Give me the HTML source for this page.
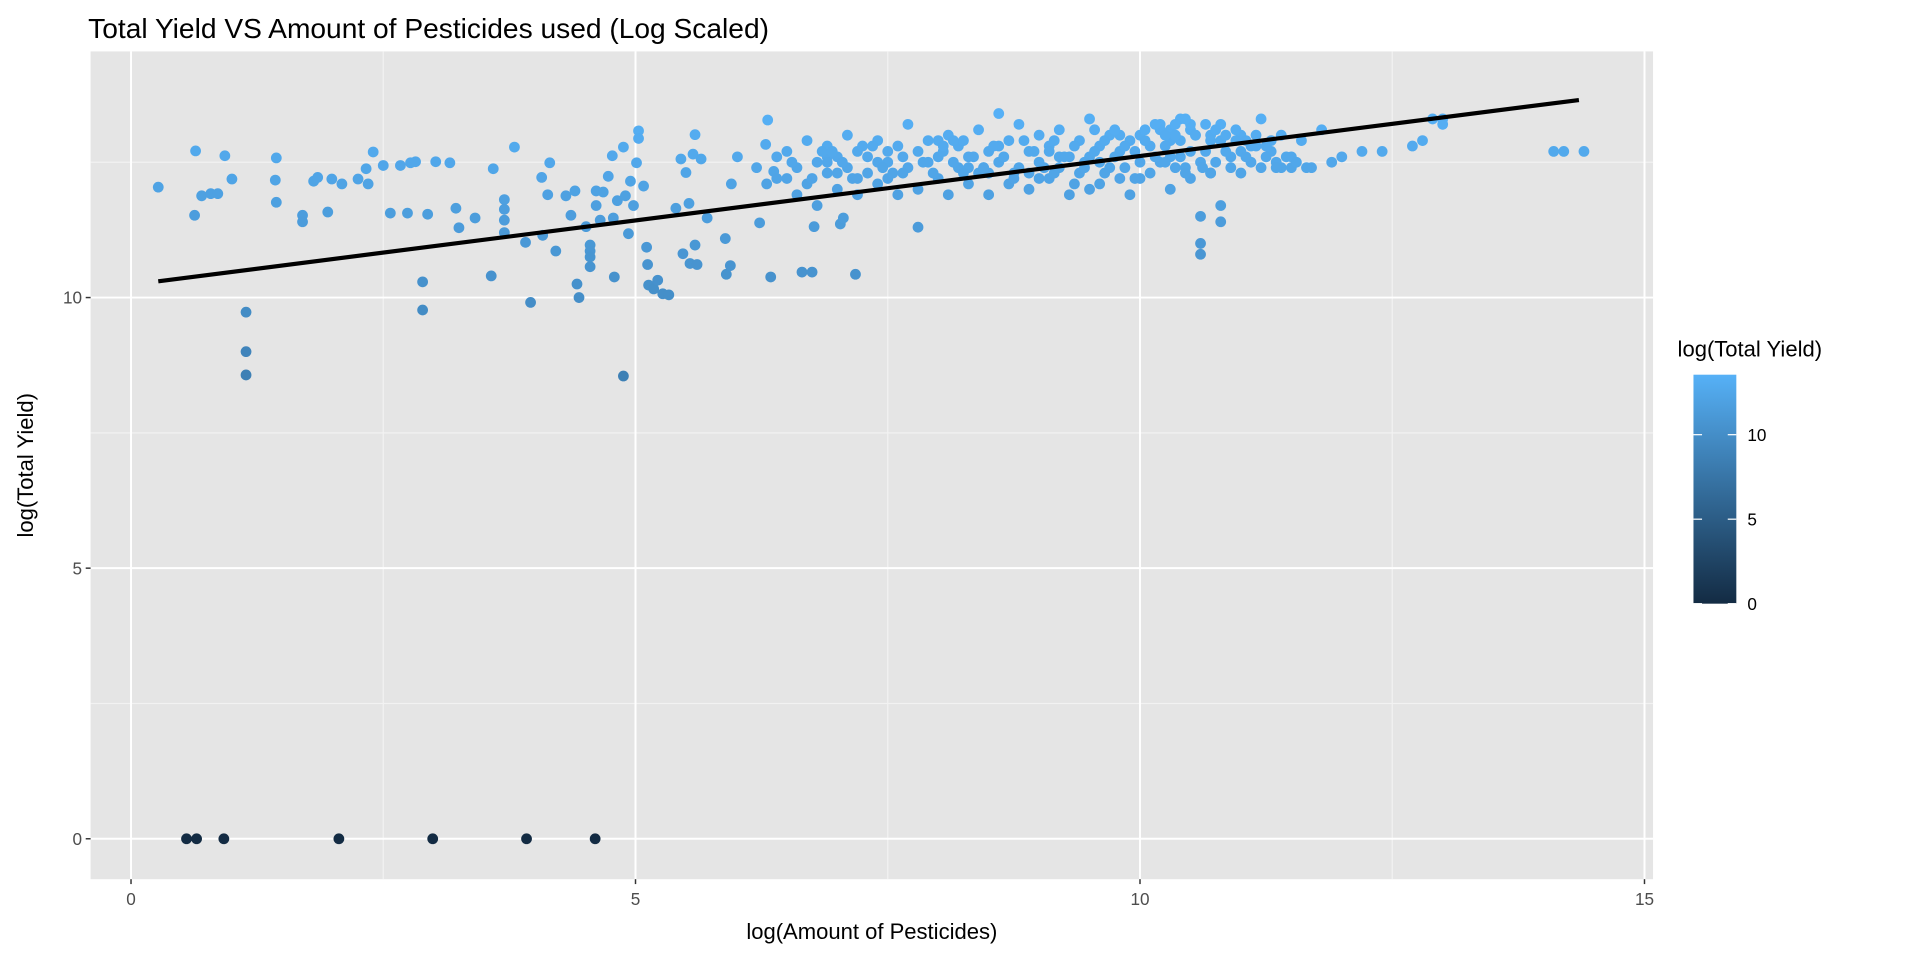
<!DOCTYPE html>
<html><head><meta charset="utf-8"><style>
html,body{margin:0;padding:0;background:#fff;width:1920px;height:960px;overflow:hidden}
svg{display:block;font-family:"Liberation Sans",Arial,sans-serif}
</style></head><body>
<svg id="chart" width="1920" height="960" viewBox="0 0 1568 784"></svg>
<script>
const xTicks=[0,5,10,15];
const yTicks=[0,5,10];
const legendTicks=[0,5,10];
const fitLine=[[0.27,10.3],[14.35,13.65]];
const xs=[0.55,0.65,0.92,2.06,2.99,3.92,4.6,
0.27,0.64,0.63,0.7,0.79,0.86,0.93,1.0,1.14,1.14,1.14,1.44,1.43,1.44,1.7,1.7,1.81,1.85,1.95,1.99,2.09,2.25,2.33,2.4,2.35,2.5,2.57,2.67,2.74,2.77,2.82,2.89,2.89,2.94,3.02,3.16,3.22,3.25,3.41,3.59,3.57,3.7,3.7,3.7,3.7,3.8,3.91,3.96,4.07,4.08,4.13,4.15,4.21,4.31,4.4,4.42,4.44,4.36,4.51,4.55,4.55,4.55,4.55,4.61,4.61,4.65,4.68,4.73,4.77,4.78,4.82,4.79,4.88,4.88,4.9,4.93,4.95,4.98,5.01,5.03,5.03,5.08,5.11,5.12,5.13,5.18,5.22,5.27,5.33,5.4,5.45,5.47,5.5,5.54,5.53,5.59,5.57,5.59,5.61,5.65,5.71,5.89,5.9,5.95,5.94,6.01,6.23,6.29,6.31,6.34,6.37,6.65,6.75,7.18,6.77,7.03,7.06,
6.2,6.3,6.4,6.5,6.5,6.6,6.6,6.7,6.7,6.8,6.8,6.9,6.9,7.0,7.0,7.1,7.1,7.2,7.2,7.3,7.3,7.4,7.4,7.5,7.5,7.6,7.6,7.7,7.7,7.8,7.8,7.8,7.9,7.9,8.0,8.0,8.1,8.1,8.2,8.2,8.3,8.3,8.4,8.4,8.5,8.5,8.6,8.6,8.7,8.7,8.8,8.8,8.9,8.9,9.0,9.0,9.1,9.1,9.2,9.2,9.3,9.3,9.4,9.4,9.5,9.5,9.6,9.6,9.7,9.7,9.8,9.8,9.9,9.9,10.0,10.0,10.1,10.1,10.2,10.2,10.3,10.3,10.4,10.4,10.5,10.5,10.6,10.6,10.6,10.6,10.7,10.7,10.8,10.8,10.8,10.9,11.0,11.0,11.1,11.1,11.2,11.2,11.3,11.4,11.4,11.5,11.6,11.7,11.8,11.9,12.0,12.2,12.4,12.7,12.8,12.9,13.0,13.0,14.1,14.2,14.4,
7.0,7.5,8.0,8.5,9.0,9.5,10.0,10.5,11.0,8.3,9.2,9.8,10.3,10.8,7.2,6.9,8.9,9.6,10.4,10.9,10.2,10.5,10.7,11.3,11.5,6.9,7.4,8.6,9.1,10.3,
6.4,6.55,6.85,7.05,7.15,7.35,7.45,7.55,7.65,7.85,7.95,8.05,8.15,8.25,8.35,8.45,8.55,8.65,8.75,8.85,8.95,9.05,9.15,9.25,9.35,9.45,9.55,9.65,9.75,9.85,9.95,10.05,10.15,10.25,10.35,10.45,10.55,10.65,10.75,10.85,10.95,11.05,11.15,11.25,11.35,11.45,
10.05,10.15,10.25,10.35,10.45,10.55,10.65,10.75,10.85,10.95,11.05,11.15,11.25,9.45,9.55,9.65,9.75,9.85,9.95,8.05,8.25,8.45,7.25,7.65,6.95,6.75,9.35,9.15,8.75,8.15,11.35,11.55,11.65,10.45,10.35,10.25,10.62,10.7];
const ys=[0,0,0,0,0,0,0,
12.04,12.71,11.52,11.88,11.92,11.92,12.62,12.19,9.73,9.0,8.57,12.58,12.17,11.76,11.52,11.4,12.15,12.22,11.58,12.19,12.1,12.19,12.38,12.69,12.1,12.44,11.56,12.44,11.56,12.49,12.51,10.29,9.77,11.54,12.51,12.49,11.65,11.29,11.47,12.38,10.4,11.81,11.63,11.43,11.2,12.78,11.02,9.91,12.22,11.15,11.9,12.49,10.86,11.88,11.97,10.25,10.0,11.52,11.31,10.97,10.86,10.75,10.57,11.97,11.7,11.43,11.95,12.24,12.62,11.47,11.79,10.38,12.78,8.55,11.88,11.18,12.15,11.7,12.49,13.08,12.94,12.06,10.93,10.61,10.23,10.16,10.32,10.07,10.05,11.65,12.56,10.81,12.31,10.63,11.74,13.01,12.65,10.97,10.61,12.56,11.47,11.09,10.43,12.1,10.59,12.6,11.38,12.83,13.28,10.38,12.33,10.47,10.47,10.43,11.31,11.36,11.47,
12.4,12.1,12.6,12.2,12.7,11.9,12.4,12.9,12.1,12.5,11.7,12.3,12.8,12.0,12.6,12.4,13.0,11.9,12.7,12.3,12.6,12.1,12.9,12.5,12.2,12.8,11.9,13.2,12.4,12.0,12.7,11.3,12.5,12.9,12.2,12.6,13.0,11.9,12.4,12.8,12.1,12.6,13.1,12.3,12.7,11.9,13.4,12.5,12.1,12.9,12.4,13.2,12.7,12.0,12.5,13.0,12.2,12.8,12.4,13.1,11.9,12.6,12.9,12.3,13.3,12.6,12.1,12.8,12.4,13.0,12.2,12.7,11.9,12.9,12.5,13.0,12.3,12.8,13.2,12.5,12.0,12.9,13.3,12.6,12.2,13.1,12.5,11.0,10.8,11.5,12.9,12.3,11.7,11.4,13.2,12.6,12.3,13.0,12.8,12.5,13.3,12.4,12.7,12.4,13.0,12.6,12.9,12.4,13.1,12.5,12.6,12.7,12.7,12.8,12.9,13.3,13.3,13.2,12.7,12.7,12.7,
12.3,12.7,12.9,12.3,12.2,12.0,12.2,12.7,12.7,12.4,12.6,13.0,12.6,12.9,12.2,12.6,12.3,12.5,12.9,12.4,13.1,13.2,13.0,12.9,12.4,12.5,12.5,12.8,12.7,13.1,
12.2,12.5,12.7,12.5,12.2,12.8,12.4,12.3,12.6,12.5,12.3,12.7,12.5,12.9,12.6,12.4,12.8,12.6,12.3,12.9,12.7,12.4,12.9,12.6,12.8,12.5,12.7,12.9,12.6,12.8,12.7,12.9,12.6,12.8,13.0,12.4,13.0,12.7,12.5,12.7,12.9,12.6,12.8,12.6,12.5,12.6,
13.1,13.2,13.0,13.2,13.3,13.0,13.2,13.1,13.0,13.1,12.9,13.0,12.8,12.4,13.1,12.3,13.1,12.4,12.2,12.8,12.3,12.4,12.8,12.3,12.7,12.2,12.1,12.3,12.2,12.9,12.4,12.5,12.4,12.3,12.4,12.5,12.4,12.3];
const svg=document.getElementById('chart');
const NS='http://www.w3.org/2000/svg';
const PL=74,PR=1350,PT=42,PB=718;
const X=v=>107+v*82.4, Y=v=>685-v*44.2;
function mk(t,a,p){const e=document.createElementNS(NS,t);for(const k in a)e.setAttribute(k,a[k]);(p||svg).appendChild(e);return e;}
function col(v){const t=Math.max(0,Math.min(1,v/13.5));const a=[19,43,67],b=[86,177,247];return `rgb(${a.map((c,i)=>Math.round(c+(b[i]-c)*t)).join(',')})`;}
let e;
e=mk('text',{x:72,y:31,'font-size':23,fill:'#000'});e.textContent='Total Yield VS Amount of Pesticides used (Log Scaled)';


e=mk('rect',{x:PL,y:PT,width:PR-PL,height:PB-PT,fill:'#e5e5e5'});


[2.5,7.5,12.5].forEach(v=>{mk('line',{x1:X(v),x2:X(v),y1:PT,y2:PB,stroke:'#f2f2f2','stroke-width':1});mk('line',{x1:PL,x2:PR,y1:Y(v),y2:Y(v),stroke:'#f2f2f2','stroke-width':1});});
xTicks.forEach(v=>{e=mk('line',{x1:X(v),x2:X(v),y1:PT,y2:PB,stroke:'#fff','stroke-width':1.6});


mk('line',{x1:X(v),x2:X(v),y1:PB,y2:PB+4,stroke:'#333','stroke-width':1.2});
e=mk('text',{x:X(v),y:PB+21,'font-size':14,fill:'#4d4d4d','text-anchor':'middle'});e.textContent=v;

});
yTicks.forEach(v=>{e=mk('line',{x1:PL,x2:PR,y1:Y(v),y2:Y(v),stroke:'#fff','stroke-width':1.6});


mk('line',{x1:PL-4,x2:PL,y1:Y(v),y2:Y(v),stroke:'#333','stroke-width':1.2});
e=mk('text',{x:PL-7,y:Y(v)+5,'font-size':14,fill:'#4d4d4d','text-anchor':'end'});e.textContent=v;

});
xs.forEach((x,i)=>{e=mk('circle',{cx:X(x),cy:Y(ys[i]),r:4.4,fill:col(ys[i])});

});
e=mk('line',{x1:X(fitLine[0][0]),y1:Y(fitLine[0][1]),x2:X(fitLine[1][0]),y2:Y(fitLine[1][1]),stroke:'#000','stroke-width':3.4});


e=mk('text',{x:712,y:767,'font-size':18,fill:'#000','text-anchor':'middle'});e.textContent='log(Amount of Pesticides)';


e=mk('text',{x:0,y:0,'font-size':18,fill:'#000','text-anchor':'middle',transform:`translate(27,${(PT+PB)/2}) rotate(-90)`});e.textContent='log(Total Yield)';


e=mk('text',{x:1370,y:291,'font-size':18,fill:'#000'});e.textContent='log(Total Yield)';


const defs=mk('defs',{});const g=mk('linearGradient',{id:'cb',x1:0,y1:1,x2:0,y2:0},defs);
mk('stop',{offset:0,'stop-color':col(0)},g);mk('stop',{offset:1,'stop-color':col(13.5)},g);
const LB=493,LS=13.8,LT=306;
e=mk('rect',{x:1383,y:LT,width:35,height:LB-LT,fill:'url(#cb)'});


legendTicks.forEach(v=>{const yy=LB-v*LS;
mk('line',{x1:1383,x2:1390,y1:yy,y2:yy,stroke:'#fff','stroke-width':1});
mk('line',{x1:1411,x2:1418,y1:yy,y2:yy,stroke:'#fff','stroke-width':1});
e=mk('text',{x:1427,y:yy+5,'font-size':14,fill:'#000'});e.textContent=v;

});
</script>
</body></html>
